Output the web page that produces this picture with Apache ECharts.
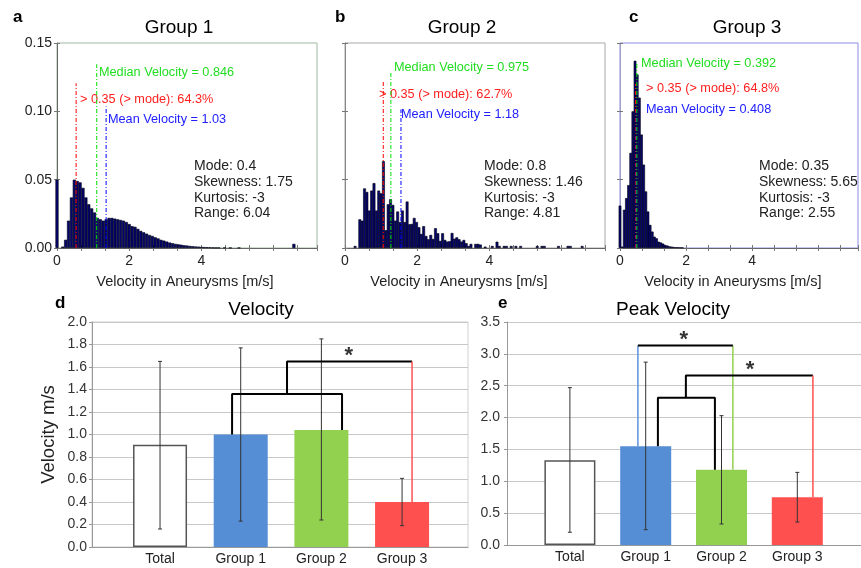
<!DOCTYPE html>
<html>
<head>
  <meta charset="utf-8">
  <title>Velocity in Aneurysms</title>
  <script src="https://cdn.jsdelivr.net/npm/echarts@6/dist/echarts.min.js"></script>
</head>
<body style="margin:0;background:#fff">
  <div id="main" style="width:861px;height:568px;"></div>
  <script type="text/javascript">
    // ---- histogram data (bin heights) ----
    var aBinStart = 0, aBinWidth = 0.08;
    var aHist = [
      0.05, 0, 0.001, 0.006, 0.02, 0.037, 0.05, 0.049, 0.048, 0.044,
      0.037, 0.032, 0.029, 0.026, 0.022, 0.021, 0.020, 0.021, 0.022, 0.022,
      0.0215, 0.021, 0.0205, 0.020, 0.019, 0.0175, 0.016, 0.0155, 0.014, 0.0125,
      0.0115, 0.0105, 0.0095, 0.0088, 0.0078, 0.007, 0.006, 0.0054, 0.0047, 0.004,
      0.0035, 0.003, 0.0027, 0.0024, 0.002, 0.0018, 0.0015, 0.0013, 0.0011, 0.001,
      0.0008, 0.0007, 0.0006, 0.0005, 0.0004, 0.0003, 0.0003, 0, 0.0002, 0,
      0.0002, 0, 0, 0.0002, 0, 0, 0, 0, 0, 0,
      0, 0, 0, 0, 0, 0, 0, 0, 0, 0,
      0, 0, 0.003
    ];
    var bBinStart = 0.279, bBinWidth = 0.0655;
    var bHist = [
      0.0015, 0, 0.021, 0.020, 0.0436, 0.041, 0.0274, 0.042, 0.0475, 0.0274,
      0.042, 0.040, 0.0635, 0.013, 0.032, 0.0357, 0.0315, 0.020, 0.0267, 0.019,
      0.0274, 0.019, 0.034, 0.0174, 0.0176, 0.022, 0.019, 0.0152, 0.0103, 0.016,
      0.0088, 0.0064, 0.0096, 0.0066, 0.0145, 0.0108, 0.0052, 0.0108, 0.0059, 0.0047,
      0.005, 0.011, 0.0068, 0.0078, 0.0064, 0.0047, 0.0059, 0.0035, 0.0015, 0.003,
      0, 0.003, 0.003, 0.0025, 0, 0.001, 0, 0, 0.0015, 0,
      0.0046, 0.0015, 0, 0.0015, 0.0015, 0, 0.0015, 0, 0.0015, 0,
      0.0015, 0, 0, 0, 0, 0, 0, 0.0015, 0, 0.0015,
      0.0015, 0, 0, 0, 0, 0, 0.0015, 0, 0, 0,
      0.0015, 0.0015, 0, 0, 0, 0, 0.0015
    ];
    var cBinStart = 0, cBinWidth = 0.065;
    var cHist = [
      0.031, 0.001, 0.028, 0.0365, 0.046, 0.0696, 0.100, 0.137, 0.127, 0.110,
      0.083, 0.061, 0.0414, 0.0267, 0.0169, 0.012, 0.0083, 0.0071, 0.0046, 0.004,
      0.0032, 0.0022, 0.0018, 0.0012, 0.001, 0.0007, 0.0005, 0.0005, 0.0004, 0.0003
    ];

    // marker lines: [x, top]  (mode, median, mean)
    var aMode = [0.53, 0.1205], aMedian = [1.10, 0.1345], aMean = [1.36, 0.1036];
    var bMode = [1.06, 0.122],  bMedian = [1.27, 0.1296], bMean = [1.55, 0.1014];
    var cMode = [0.47, 0.12],   cMedian = [0.51, 0.136],  cMean = [0.49, 0.10];

    var aNotes = ['Median Velocity = 0.846', '> 0.35 (> mode): 64.3%', 'Mean Velocity = 1.03'];
    var bNotes = ['Median Velocity = 0.975', '> 0.35 (> mode): 62.7%', 'Mean Velocity = 1.18'];
    var cNotes = ['Median Velocity = 0.392', '> 0.35 (> mode): 64.8%', 'Mean Velocity = 0.408'];
    var aStats = ['Mode: 0.4', 'Skewness: 1.75', 'Kurtosis: -3', 'Range: 6.04'];
    var bStats = ['Mode: 0.8', 'Skewness: 1.46', 'Kurtosis: -3', 'Range: 4.81'];
    var cStats = ['Mode: 0.35', 'Skewness: 5.65', 'Kurtosis: -3', 'Range: 2.55'];

    // ---- bar charts ----
    var groups = ['Total', 'Group 1', 'Group 2', 'Group 3'];
    var velMean = [0.91, 1.00, 1.04, 0.40];
    var velLow  = [0.16, 0.23, 0.24, 0.19];
    var velHigh = [1.65, 1.77, 1.85, 0.61];
    var peakMean = [1.33, 1.55, 1.18, 0.75];
    var peakLow  = [0.20, 0.24, 0.33, 0.36];
    var peakHigh = [2.47, 2.87, 2.03, 1.14];

    // significance brackets, x in category units (0 = Total ... 3 = Group 3)
    var dInner = [[0.893, 1.00], [0.893, 1.36], [2.256, 1.36], [2.256, 1.04]];
    var dOuter = [[1.574, 1.36], [1.574, 1.65], [3.124, 1.65]];
    var dRedLeg = [[3.124, 1.65], [3.124, 0.40]];
    var dStar = [[2.34, 1.70]];

    var eBlueLeg = [[0.897, 1.55], [0.897, 3.13]];
    var eTop = [[0.897, 3.13], [2.15, 3.13]];
    var eGreenLeg = [[2.15, 3.13], [2.15, 1.18]];
    var eInner = [[1.161, 1.55], [1.161, 2.31], [1.913, 2.31], [1.913, 1.18]];
    var eOuter = [[1.53, 2.31], [1.53, 2.66], [3.206, 2.66]];
    var eRedLeg = [[3.206, 2.66], [3.206, 0.75]];
    var eStars = [[1.504, 3.22], [2.375, 2.75]];

    var barColors = ['#ffffff', '#558ed5', '#92d050', '#ff5050'];
    var FONT = '"Liberation Sans", Arial, sans-serif';

    var myChart = echarts.init(document.getElementById('main'));

    function histData(start, width, arr) {
      var out = [];
      arr.forEach(function (h, i) {
        if (h > 0) out.push([start + i * width, h]);
      });
      return out;
    }

    function tickLabel(v) {
      var r = Math.round(v);
      if (Math.abs(v - r) < 1e-6 && r <= 4 && r % 2 === 0) return String(r);
      return '';
    }

    function histX(grid, pos, showLabel) {
      return {
        type: 'value', gridIndex: grid, position: pos, min: 0, max: 7.2, interval: 2 / 3,
        axisLine: { show: pos === 'bottom', lineStyle: { color: '#666' } },
        axisTick: { inside: true, length: 3, lineStyle: { color: '#777' } },
        splitLine: { show: false },
        axisLabel: { show: showLabel, formatter: tickLabel, margin: 6, fontSize: 14, color: '#222', fontFamily: FONT }
      };
    }
    function histY(grid, pos, showLabel, lineColor) {
      return {
        type: 'value', gridIndex: grid, position: pos, min: 0, max: 0.15, interval: 0.05,
        axisLine: { show: pos === 'left', lineStyle: { color: lineColor } },
        axisTick: { inside: true, length: 3, lineStyle: { color: '#777' } },
        splitLine: { show: false },
        axisLabel: { show: showLabel, formatter: function (v) { return v.toFixed(2); }, margin: 5, fontSize: 14, color: '#222', fontFamily: FONT }
      };
    }

    function histSeries(xi, yi, data, w) {
      return {
        type: 'bar', xAxisIndex: xi, yAxisIndex: yi, barWidth: w, data: data,
        itemStyle: { color: '#05056e', borderColor: '#000010', borderWidth: 0.6 },
        silent: true, z: 2
      };
    }
    function markerLine(xi, yi, m, color) {
      return {
        type: 'line', xAxisIndex: xi, yAxisIndex: yi, symbol: 'none', silent: true, z: 5,
        data: [[m[0], 0], [m[0], m[1]]],
        lineStyle: { color: color, width: 1, type: [4, 2, 1, 2] }
      };
    }
    function pathSeries(xi, yi, data, color, width) {
      return {
        type: 'line', xAxisIndex: xi, yAxisIndex: yi, symbol: 'none', silent: true, z: 6,
        data: data, lineStyle: { color: color, width: width }
      };
    }
    function starSeries(xi, yi, data) {
      return {
        type: 'scatter', xAxisIndex: xi, yAxisIndex: yi, symbolSize: 2, silent: true, z: 7,
        itemStyle: { color: 'rgba(0,0,0,0)' }, data: data,
        label: { show: true, position: 'inside', formatter: '*', fontSize: 22, fontWeight: 'bold', color: '#000', fontFamily: FONT }
      };
    }
    function errSeries(xi, yi, low, high) {
      return {
        type: 'custom', xAxisIndex: xi, yAxisIndex: yi, silent: true, z: 4,
        data: low.map(function (l, i) { return [i, l, high[i]]; }),
        renderItem: function (params, api) {
          var lo = api.coord([api.value(0), api.value(1)]);
          var hi = api.coord([api.value(0), api.value(2)]);
          var st = { stroke: '#333', lineWidth: 1 };
          return {
            type: 'group', children: [
              { type: 'line', shape: { x1: lo[0], y1: lo[1], x2: hi[0], y2: hi[1] }, style: st },
              { type: 'line', shape: { x1: lo[0] - 2, y1: lo[1], x2: lo[0] + 2, y2: lo[1] }, style: st },
              { type: 'line', shape: { x1: hi[0] - 2, y1: hi[1], x2: hi[0] + 2, y2: hi[1] }, style: st }
            ]
          };
        }
      };
    }
    function barData(vals) {
      return vals.map(function (v, i) {
        return {
          value: v,
          itemStyle: i === 0 ? { color: '#fff', borderColor: '#555', borderWidth: 1.5 } : { color: barColors[i] }
        };
      });
    }

    function txt(x, y, s, size, color, extra) {
      var o = { type: 'text', x: x, y: y, silent: true,
        style: { text: s, fontSize: size, fill: color, fontFamily: FONT, textAlign: 'left', textVerticalAlign: 'middle' } };
      if (extra) for (var k in extra) o.style[k] = extra[k];
      return o;
    }
    function notes(x, ys, n) {
      return [
        txt(x[0], ys[0], n[0], 12.7, '#22dd22'),
        txt(x[1], ys[1], n[1], 12.7, '#ff2020'),
        txt(x[2], ys[2], n[2], 12.7, '#2020ff')
      ];
    }
    function stats(x, s) {
      return txt(x, 190, s.join('\n'), 14, '#222', { lineHeight: 15.7 });
    }

    var catAxis = function (grid) {
      return {
        type: 'category', gridIndex: grid, data: groups,
        axisLine: { show: false }, axisTick: { show: false },
        axisLabel: { fontSize: 14, color: '#222', margin: 5, fontFamily: FONT }
      };
    };
    var hidden = function (type, grid, min, max) {
      return { type: type, gridIndex: grid, min: min, max: max, show: false };
    };

    var option = {
      animation: false,
      backgroundColor: '#fff',
      grid: [
        { left: 57, top: 43, width: 260, height: 205, show: true, borderColor: '#a3b8a3', borderWidth: 1 },
        { left: 345, top: 43, width: 260, height: 205, show: true, borderColor: '#a8a8a8', borderWidth: 1 },
        { left: 620, top: 43, width: 260, height: 205, show: true, borderColor: '#8c8ce6', borderWidth: 1 },
        { left: 92, top: 322, width: 376, height: 225, show: true, borderColor: '#d0d0d0', borderWidth: 1 },
        { left: 119.7, top: 322, width: 322.7, height: 225 },
        { left: 507, top: 322, width: 360, height: 223 },
        { left: 532, top: 322, width: 303.2, height: 223 }
      ],
      xAxis: [
        histX(0, 'bottom', true), histX(0, 'top', false),
        histX(1, 'bottom', true), histX(1, 'top', false),
        histX(2, 'bottom', true), histX(2, 'top', false),
        { type: 'value', gridIndex: 3, min: 0, max: 1, axisLine: { show: true, lineStyle: { color: '#999' } },
          axisTick: { show: false }, axisLabel: { show: false }, splitLine: { show: false } },
        catAxis(4), hidden('value', 4, -0.5, 3.5),
        { type: 'value', gridIndex: 5, min: 0, max: 1, axisLine: { show: true, lineStyle: { color: '#999' } },
          axisTick: { show: false }, axisLabel: { show: false }, splitLine: { show: false } },
        catAxis(6), hidden('value', 6, -0.5, 3.5)
      ],
      yAxis: [
        histY(0, 'left', true, '#666'), histY(0, 'right', false, '#666'),
        histY(1, 'left', false, '#888'), histY(1, 'right', false, '#888'),
        histY(2, 'left', false, '#a0a0c0'), histY(2, 'right', false, '#888'),
        { type: 'value', gridIndex: 3, min: 0, max: 2, interval: 0.2,
          name: 'Velocity m/s', nameLocation: 'middle', nameGap: 34,
          nameTextStyle: { fontSize: 18.5, color: '#222', fontFamily: FONT },
          axisLine: { show: true, lineStyle: { color: '#999' } },
          axisTick: { show: true, length: 3, lineStyle: { color: '#999' } },
          axisLabel: { formatter: function (v) { return v.toFixed(1); }, fontSize: 14, color: '#333', margin: 5, fontFamily: FONT },
          splitLine: { lineStyle: { color: '#c8c8c8' } } },
        hidden('value', 4, 0, 2),
        { type: 'value', gridIndex: 5, min: 0, max: 3.5, interval: 0.5,
          axisLine: { show: true, lineStyle: { color: '#999' } },
          axisTick: { show: true, length: 3, lineStyle: { color: '#999' } },
          axisLabel: { formatter: function (v) { return v.toFixed(1); }, fontSize: 14, color: '#333', margin: 7, fontFamily: FONT },
          splitLine: { lineStyle: { color: '#c8c8c8' } } },
        hidden('value', 6, 0, 3.5)
      ],
      graphic: [
        txt(13, 17, 'a', 17, '#000', { fontWeight: 'bold' }),
        txt(335, 17, 'b', 17, '#000', { fontWeight: 'bold' }),
        txt(629, 17, 'c', 17, '#000', { fontWeight: 'bold' }),
        txt(179, 28, 'Group 1', 19, '#000', { textAlign: 'center' }),
        txt(462, 28, 'Group 2', 19, '#000', { textAlign: 'center' }),
        txt(747, 28, 'Group 3', 19, '#000', { textAlign: 'center' }),
        txt(185, 282, 'Velocity in Aneurysms [m/s]', 14.5, '#222', { textAlign: 'center' }),
        txt(459, 282, 'Velocity in Aneurysms [m/s]', 14.5, '#222', { textAlign: 'center' }),
        txt(733, 282, 'Velocity in Aneurysms [m/s]', 14.5, '#222', { textAlign: 'center' }),
        txt(55, 303, 'd', 17, '#000', { fontWeight: 'bold' }),
        txt(498, 303, 'e', 17, '#000', { fontWeight: 'bold' }),
        txt(261, 310, 'Velocity', 19, '#000', { textAlign: 'center' }),
        txt(673, 310, 'Peak Velocity', 19, '#000', { textAlign: 'center' }),
        stats(194, aStats), stats(484, bStats), stats(759, cStats)
      ]
        .concat(notes([99, 80, 108], [72, 99, 119], aNotes))
        .concat(notes([394, 379, 401], [67, 94, 114], bNotes))
        .concat(notes([641, 646, 646], [63, 88, 109], cNotes)),
      series: [
        histSeries(0, 0, histData(aBinStart, aBinWidth, aHist), 3.1),
        histSeries(2, 2, histData(bBinStart, bBinWidth, bHist), 2.8),
        histSeries(4, 4, histData(cBinStart, cBinWidth, cHist), 2.7),
        markerLine(0, 0, aMode, '#ff0000'), markerLine(0, 0, aMedian, '#00e000'), markerLine(0, 0, aMean, '#0000ff'),
        markerLine(2, 2, bMode, '#ff0000'), markerLine(2, 2, bMedian, '#00e000'), markerLine(2, 2, bMean, '#0000ff'),
        markerLine(4, 4, cMode, '#ff0000'), markerLine(4, 4, cMean, '#0000ff'), markerLine(4, 4, cMedian, '#00e000'),

        { type: 'bar', xAxisIndex: 7, yAxisIndex: 7, barWidth: 54, data: barData(velMean), silent: true, z: 2 },
        errSeries(7, 7, velLow, velHigh),
        pathSeries(8, 7, dInner, '#000', 2),
        pathSeries(8, 7, dOuter, '#000', 2),
        pathSeries(8, 7, dRedLeg, '#ff5050', 1.5),
        starSeries(8, 7, dStar),

        { type: 'bar', xAxisIndex: 10, yAxisIndex: 9, barWidth: 51, data: barData(peakMean), silent: true, z: 2 },
        errSeries(10, 9, peakLow, peakHigh),
        pathSeries(11, 9, eBlueLeg, '#5b93dc', 1.5),
        pathSeries(11, 9, eGreenLeg, '#92d050', 1.5),
        pathSeries(11, 9, eTop, '#000', 2),
        pathSeries(11, 9, eInner, '#000', 2),
        pathSeries(11, 9, eOuter, '#000', 2),
        pathSeries(11, 9, eRedLeg, '#ff5050', 1.5),
        starSeries(11, 9, eStars)
      ]
    };
    myChart.setOption(option);
  </script>
</body>
</html>
